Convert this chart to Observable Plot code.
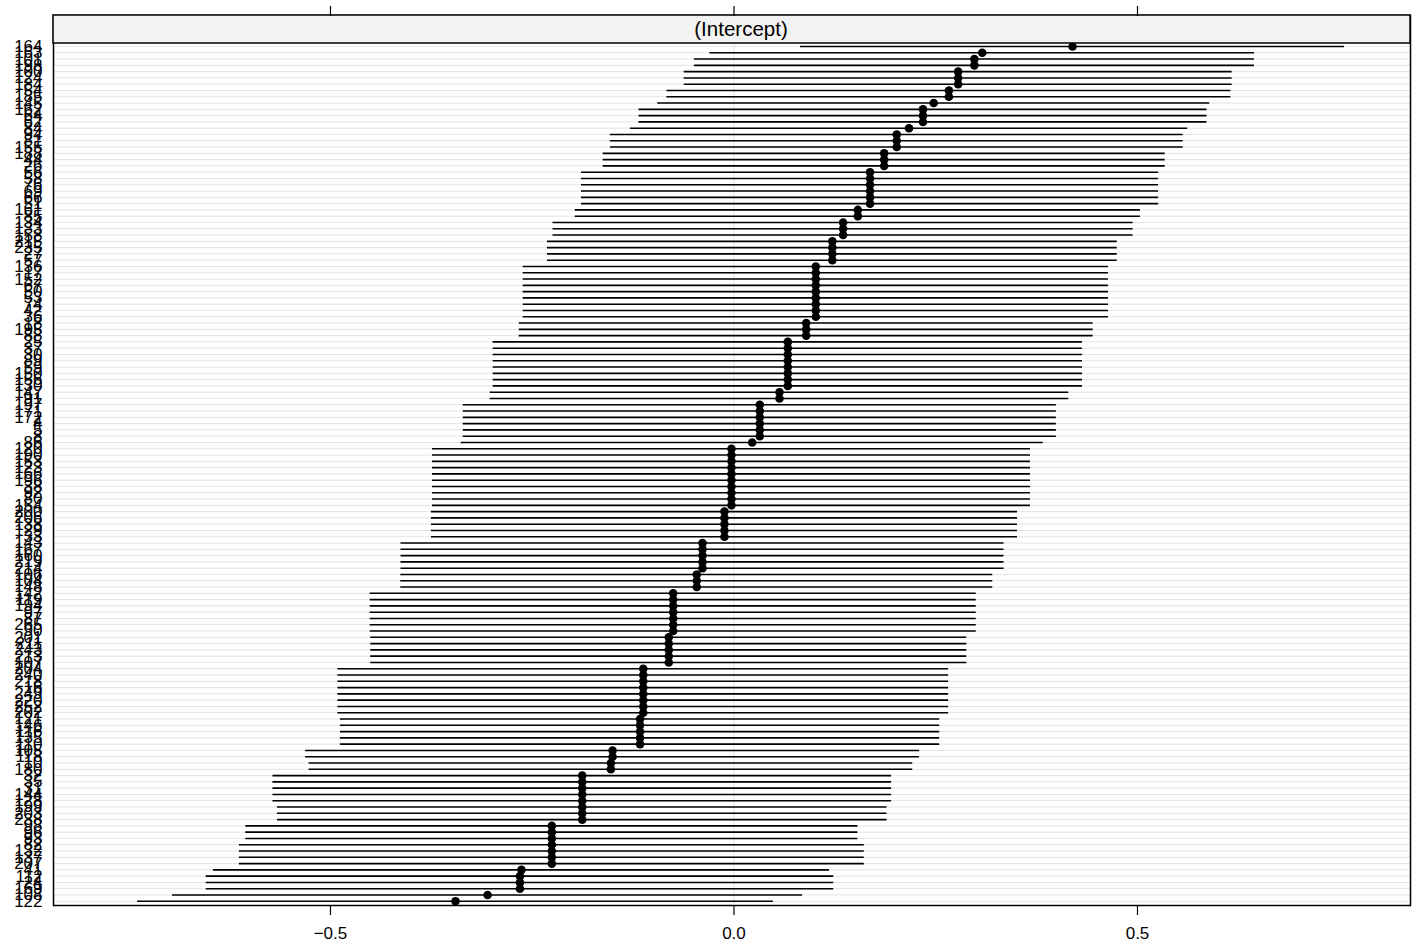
<!DOCTYPE html>
<html>
<head>
<meta charset="utf-8">
<script src="https://cdn.jsdelivr.net/npm/d3@7"></script>
<script src="https://cdn.jsdelivr.net/npm/@observablehq/plot@0.6"></script>
<style>
  html, body { margin: 0; padding: 0; background: white; }
</style>
</head>
<body>
<div id="chart"></div>
<script>
// Group labels (top to bottom)
const levels = [
  "164","163","101","198","100","124","184","54","185","145",
  "162","64","62","84","94","81","155","188","44","26",
  "56","58","76","69","66","51","161","85","134","133",
  "158","215","235","27","57","136","17","152","67","50",
  "53","74","42","36","18","195","88","25","37","30",
  "89","59","150","156","130","147","91","197","171","172",
  "4","5","8","86","120","190","153","123","166","196",
  "38","92","80","154","200","206","138","129","33","143",
  "167","160","219","214","106","104","148","142","119","194",
  "97","87","265","90","201","211","243","213","107","204",
  "240","218","16","249","220","252","202","121","146","116",
  "135","110","105","118","10","180","32","35","31","144",
  "128","199","203","238","98","96","93","82","132","137",
  "207","41","112","24","169","108","122"
];

// Conditional mode of the random intercept, per group
const estimate = [
  0.4195, 0.3076, 0.2979, 0.2979, 0.2778, 0.2778, 0.2778, 0.2663, 0.2663, 0.2475,
  0.2342, 0.2342, 0.2342, 0.2169, 0.2017, 0.2017, 0.2017, 0.1861, 0.1861, 0.1861,
  0.1686, 0.1686, 0.1686, 0.1686, 0.1686, 0.1686, 0.1535, 0.1535, 0.1352, 0.1352,
  0.1352, 0.1219, 0.1219, 0.1219, 0.1219, 0.1014, 0.1014, 0.1014, 0.1014, 0.1014,
  0.1014, 0.1014, 0.1014, 0.1014, 0.0895, 0.0895, 0.0895, 0.0667, 0.0667, 0.0667,
  0.0667, 0.0667, 0.0667, 0.0667, 0.0667, 0.0564, 0.0564, 0.0320, 0.0320, 0.0320,
  0.0320, 0.0320, 0.0320, 0.0226, -0.0031, -0.0031, -0.0031, -0.0031, -0.0031, -0.0031,
  -0.0031, -0.0031, -0.0031, -0.0031, -0.0118, -0.0118, -0.0118, -0.0118, -0.0118, -0.0390,
  -0.0390, -0.0390, -0.0390, -0.0390, -0.0461, -0.0461, -0.0461, -0.0753, -0.0753, -0.0753,
  -0.0753, -0.0753, -0.0753, -0.0753, -0.0808, -0.0808, -0.0808, -0.0808, -0.0808, -0.1124,
  -0.1124, -0.1124, -0.1124, -0.1124, -0.1124, -0.1124, -0.1124, -0.1164, -0.1164, -0.1164,
  -0.1164, -0.1164, -0.1504, -0.1504, -0.1525, -0.1525, -0.1880, -0.1880, -0.1880, -0.1880,
  -0.1880, -0.1880, -0.1880, -0.1880, -0.2257, -0.2257, -0.2257, -0.2257, -0.2257, -0.2257,
  -0.2257, -0.2633, -0.2652, -0.2652, -0.2652, -0.3053, -0.3451
];

// Half-width of the interval drawn around each estimate
const halfWidth = [
  0.3371, 0.3374, 0.3470, 0.3470, 0.3395, 0.3395, 0.3395, 0.3494, 0.3494, 0.3420,
  0.3519, 0.3519, 0.3519, 0.3452, 0.3549, 0.3549, 0.3549, 0.3482, 0.3482, 0.3482,
  0.3576, 0.3576, 0.3576, 0.3576, 0.3576, 0.3576, 0.3502, 0.3502, 0.3594, 0.3594,
  0.3594, 0.3530, 0.3530, 0.3530, 0.3530, 0.3626, 0.3626, 0.3626, 0.3626, 0.3626,
  0.3626, 0.3626, 0.3626, 0.3626, 0.3556, 0.3556, 0.3556, 0.3651, 0.3651, 0.3651,
  0.3651, 0.3651, 0.3651, 0.3651, 0.3651, 0.3585, 0.3585, 0.3675, 0.3675, 0.3675,
  0.3675, 0.3675, 0.3675, 0.3606, 0.3705, 0.3705, 0.3705, 0.3705, 0.3705, 0.3705,
  0.3705, 0.3705, 0.3705, 0.3705, 0.3631, 0.3631, 0.3631, 0.3631, 0.3631, 0.3736,
  0.3736, 0.3736, 0.3736, 0.3736, 0.3668, 0.3668, 0.3668, 0.3755, 0.3755, 0.3755,
  0.3755, 0.3755, 0.3755, 0.3755, 0.3693, 0.3693, 0.3693, 0.3693, 0.3693, 0.3784,
  0.3784, 0.3784, 0.3784, 0.3784, 0.3784, 0.3784, 0.3784, 0.3713, 0.3713, 0.3713,
  0.3713, 0.3713, 0.3804, 0.3804, 0.3740, 0.3740, 0.3833, 0.3833, 0.3833, 0.3833,
  0.3833, 0.3776, 0.3776, 0.3776, 0.3792, 0.3792, 0.3792, 0.3872, 0.3872, 0.3872,
  0.3872, 0.3817, 0.3888, 0.3888, 0.3888, 0.3903, 0.3939
];

const xTicks = [-0.5, 0.0, 0.5];
const panelTitle = "(Intercept)";

const rows = levels.map((id, i) => ({
  id,
  est: estimate[i],
  lo: estimate[i] - halfWidth[i],
  hi: estimate[i] + halfWidth[i]
}));

const FONT = "'Liberation Sans', Arial, Helvetica, sans-serif";

function stripMark(index, scales, values, dims) {
  const g = d3.create("svg:g");
  const x0 = dims.marginLeft;
  const x1 = dims.width - dims.marginRight;
  const y0 = dims.marginTop;
  const h = 28;
  g.append("rect")
    .attr("x", x0).attr("y", y0)
    .attr("width", x1 - x0).attr("height", h)
    .attr("fill", "#f2f2f2")
    .attr("stroke", "black")
    .attr("stroke-width", 1.5);
  g.append("text")
    .attr("x", 741)
    .attr("y", y0 + h / 2)
    .attr("dy", "0.35em")
    .attr("text-anchor", "middle")
    .attr("font-family", FONT)
    .attr("font-size", 20.5)
    .attr("fill", "black")
    .text(panelTitle);
  return g.node();
}

const chart = Plot.plot({
  width: 1415,
  height: 943,
  marginLeft: 53,
  marginRight: 5,
  marginTop: 15,
  marginBottom: 38,
  style: { fontFamily: FONT, fontSize: "17px", background: "white", color: "black" },
  x: { domain: [-0.8432, 0.8383], label: null },
  y: { type: "point", domain: levels, range: [46, 900.8], padding: 0, label: null },
  marks: [
    Plot.ruleY(levels, { y: d => d, stroke: "#e4e4e4", strokeWidth: 1 }),
    Plot.ruleX([0], { stroke: "#e4e4e4", strokeWidth: 1 }),
    Plot.ruleY(rows, { y: "id", x1: "lo", x2: "hi", stroke: "black", strokeWidth: 1.6 }),
    Plot.dot(rows, { x: "est", y: "id", r: 4.3, fill: "black", stroke: "none" }),
    Plot.frame({ stroke: "black", strokeWidth: 1.5 }),
    stripMark,
    Plot.axisY({ tickSize: 0, tickPadding: 11, fontSize: 17, label: null }),
    Plot.axisX({ anchor: "bottom", ticks: xTicks, tickSize: 10, tickPadding: 11,
                 tickFormat: d3.format(".1f"), fontSize: 17, label: null, strokeWidth: 1.2 }),
    Plot.axisX({ anchor: "top", ticks: xTicks, tickSize: 10, tickFormat: () => "",
                 label: null, strokeWidth: 1.2 })
  ]
});

document.getElementById("chart").appendChild(chart);
</script>
</body>
</html>
